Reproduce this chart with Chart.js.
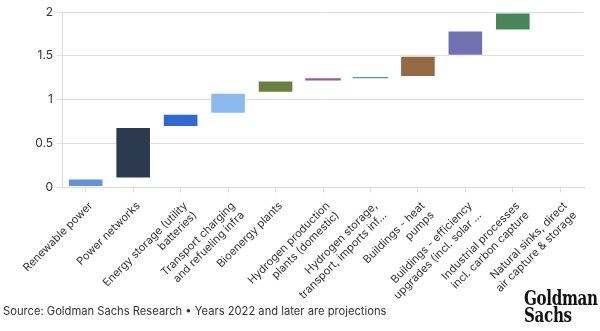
<!DOCTYPE html>
<html>
<head>
<meta charset="utf-8">
<script src="https://cdn.jsdelivr.net/npm/chart.js@4/dist/chart.umd.min.js"></script>
<style>
  html, body { margin: 0; padding: 0; background: #fff; }
  body { width: 600px; height: 331px; position: relative; overflow: hidden; font-family: Inter, 'Noto Sans', sans-serif; }
  #wrap { position: absolute; left: 0; top: 0; width: 600px; height: 309px; }
  #source { position: absolute; left: 3px; top: 304px; font-size: 11.2px; color: #333; }
  #logo { position: absolute; left: 524px; top: 290px; font-family: 'DejaVu Serif Condensed', 'DejaVu Serif', serif; font-weight: bold; font-size: 20px; line-height: 17px; color: #111; letter-spacing: -0.4px; transform: scaleX(0.84); transform-origin: left top; }
</style>
</head>
<body>
<div id="wrap"><canvas id="chart"></canvas></div>
<div id="source">Source: Goldman Sachs Research • Years 2022 and later are projections</div>
<div id="logo">Goldman<br>Sachs</div>
<script>
// categorías (tick labels)
const categories = [
  'Renewable power',
  'Power networks',
  ['Energy storage (utility', 'batteries)'],
  ['Transport charging', 'and refueling infra'],
  'Bioenergy plants',
  ['Hydrogen production', 'plants (domestic)'],
  ['Hydrogen storage,', 'transport, imports inf…'],
  ['Buildings - heat', 'pumps'],
  ['Buildings - efficiency', 'upgrades (incl. solar …'],
  ['Industrial processes', 'incl. carbon capture'],
  ['Natural sinks, direct', 'air capture & storage'],
];

// waterfall: base and top of each step
const bottoms = [0, 0.10, 0.69, 0.84, 1.08, 1.22, 1.245, 1.26, 1.50, 1.79, 1.995];
const tops    = [0.10, 0.69, 0.84, 1.08, 1.22, 1.245, 1.26, 1.50, 1.79, 1.995, 2.003];

const colors = ['#6394da', '#2b3a4f', '#2f6ad4', '#8bbaf0', '#69803f', '#a5588f',
                '#4b9ca3', '#946a42', '#7170b1', '#488558', '#e8b9c8'];

const yTicks = [0, 0.5, 1, 1.5, 2];

Chart.defaults.font.family = "Inter, 'Noto Sans', sans-serif";
Chart.defaults.color = '#333';

new Chart(document.getElementById('chart'), {
  type: 'bar',
  data: {
    labels: categories,
    datasets: [{
      data: bottoms.map((b, i) => [b, tops[i]]),
      backgroundColor: colors,
      borderColor: 'rgba(255,255,255,0.55)',
      // thin steps get no outline so they stay visible
      borderWidth: bottoms.map((b, i) => (tops[i] - b > 0.05 ? 1 : 0)),
      borderSkipped: false,
      categoryPercentage: 0.75,
      barPercentage: 1,
    }],
  },
  options: {
    responsive: true,
    maintainAspectRatio: false,
    animation: false,
    layout: { padding: { left: 0, right: 16, top: 12, bottom: 0 } },
    plugins: { legend: { display: false }, tooltip: { enabled: false } },
    scales: {
      x: {
        grid: { display: true, drawOnChartArea: false, drawTicks: true, tickLength: 5, color: '#ddd', offset: false },
        border: { color: '#ddd' },
        ticks: { minRotation: 45, maxRotation: 45, font: { size: 11 }, color: '#333', padding: 7, labelOffset: 5, autoSkip: false },
      },
      y: {
        min: 0, max: 2,
        afterBuildTicks: (axis) => { axis.ticks = yTicks.map(v => ({ value: v })); },
        grid: { color: '#e0e0e0', tickLength: 5 },
        border: { color: '#ddd' },
        ticks: { font: { size: 12 }, color: '#333', padding: 4, callback: (v) => String(v) },
        afterFit: (axis) => { axis.width = 62; },
      },
    },
  },
});
</script>
</body>
</html>
